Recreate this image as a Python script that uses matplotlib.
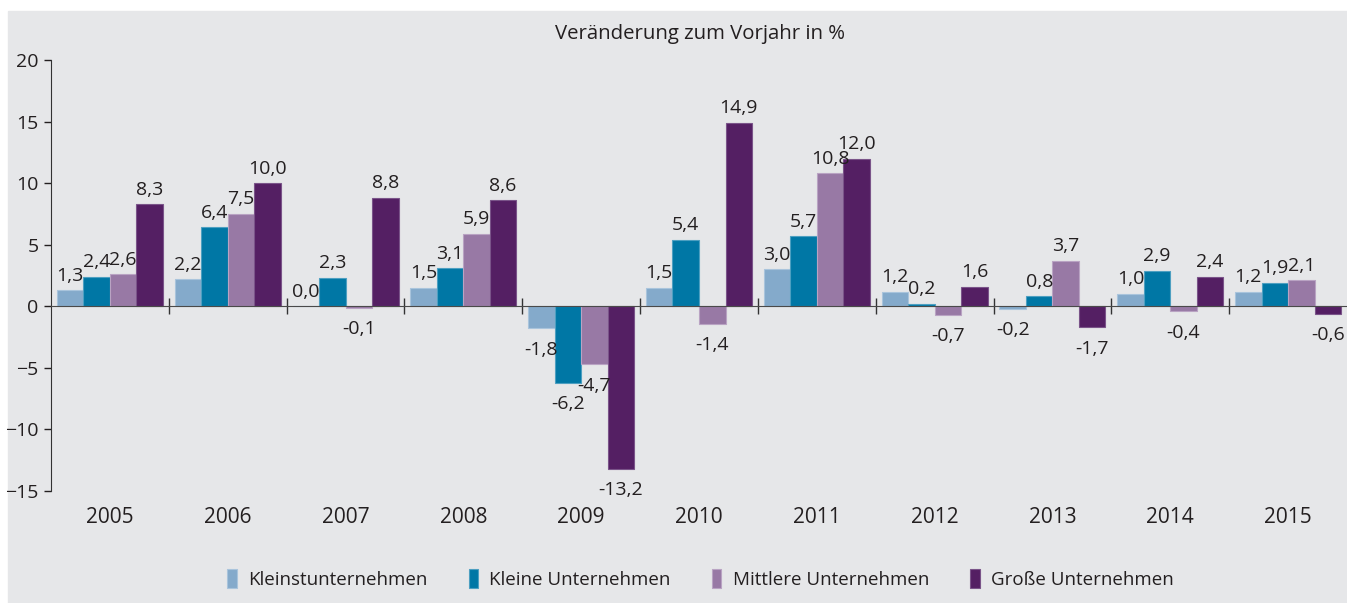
import matplotlib
matplotlib.use('Agg')
import matplotlib.pyplot as plt
from matplotlib.patches import Rectangle
import numpy as np

plt.rcParams['font.family'] = ['Open Sans', 'DejaVu Sans']

years = ['2005', '2006', '2007', '2008', '2009', '2010',
         '2011', '2012', '2013', '2014', '2015']
series_names = ['Kleinstunternehmen', 'Kleine Unternehmen',
                'Mittlere Unternehmen', 'Große Unternehmen']
kleinst = [1.3, 2.2, 0.0, 1.5, -1.8, 1.5, 3.0, 1.2, -0.2, 1.0, 1.2]
kleine = [2.4, 6.4, 2.3, 3.1, -6.2, 5.4, 5.7, 0.2, 0.8, 2.9, 1.9]
mittlere = [2.6, 7.5, -0.1, 5.9, -4.7, -1.4, 10.8, -0.7, 3.7, -0.4, 2.1]
grosse = [8.3, 10.0, 8.8, 8.6, -13.2, 14.9, 12.0, 1.6, -1.7, 2.4, -0.6]

colors = ['#84aacb', '#0077a5', '#9879a5', '#541f63']
edges = ['#a9c4dc', '#4d9fc1', '#b9a3c3', '#7a5489']
text_color = '#231f20'
bg = '#e6e7e9'

fig = plt.figure(figsize=(13.47, 6.03), dpi=100, facecolor='white')
# grauer Hintergrund hinter allem
fig.patches.append(Rectangle((8 / 1347, 0), 1, 1 - 11 / 603,
                             transform=fig.transFigure, color=bg, zorder=-10))

ax = fig.add_axes([51 / 1347, 1 - 491 / 603, 1 - 51 / 1347, (491 - 60) / 603])
ax.set_facecolor('none')

x = np.arange(len(years))
bw = 0.225
for i, (vals, c, ec) in enumerate(zip([kleinst, kleine, mittlere, grosse], colors, edges)):
    offs = (i - 1.5) * bw
    bars = ax.bar(x + offs, vals, bw, color=c, edgecolor=ec, linewidth=0.8,
                  label=series_names[i], zorder=2)
    for b, v in zip(bars, vals):
        lab = f'{v:.1f}'.replace('.', ',')
        if v >= 0:
            ax.annotate(lab, (b.get_x() + b.get_width() / 2, v), xytext=(0, 4),
                        textcoords='offset points', ha='center', va='bottom',
                        fontsize=14, color=text_color)
        else:
            ax.annotate(lab, (b.get_x() + b.get_width() / 2, v), xytext=(0, -9),
                        textcoords='offset points', ha='center', va='top',
                        fontsize=14, color=text_color)

ax.set_xlim(-0.5, 10.5)
ax.set_ylim(-15, 20)
ax.set_yticks(range(-15, 21, 5))
ax.tick_params(axis='y', labelsize=14, colors=text_color, length=5, width=1, pad=4)
ax.set_xticks(np.arange(0.5, 10.5, 1))
ax.set_xticklabels([])
ax.tick_params(axis='x', direction='inout', length=11, width=1, color='#333333')

for s in ['top', 'right']:
    ax.spines[s].set_visible(False)
ax.spines['bottom'].set_position(('data', 0))
ax.spines['bottom'].set_color('#4a4a4a')
ax.spines['bottom'].set_zorder(3)
ax.spines['left'].set_color('#333333')

for xi, yr in zip(x, years):
    ax.text(xi, -0.062, yr, transform=ax.get_xaxis_transform(), ha='center',
            va='center', fontsize=15, color=text_color)

fig.text(0.52, 1 - 34 / 603, 'Veränderung zum Vorjahr in %', ha='center', va='center',
         fontsize=14.7, color=text_color)

handles, labels = ax.get_legend_handles_labels()
leg = fig.legend(handles, labels, loc='center', bbox_to_anchor=(0.52, 1 - 579 / 603),
                 ncol=4, frameon=False, fontsize=13.5, handlelength=0.5,
                 handleheight=1.2, handletextpad=0.6, columnspacing=2.2)
for t in leg.get_texts():
    t.set_color(text_color)

plt.savefig('out.png', dpi=100, facecolor='white')
